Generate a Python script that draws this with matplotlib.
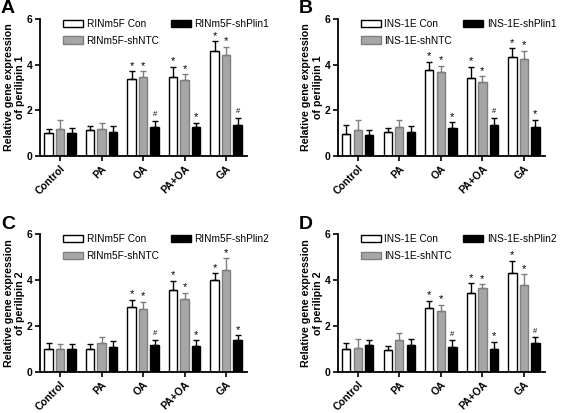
import numpy as np
import matplotlib.pyplot as plt

plt.rcParams['font.family'] = ['Liberation Sans', 'DejaVu Sans']

groups = ['Control', 'PA', 'OA', 'PA+OA', 'GA']

# panel A: RINm5F, perilipin 1
a_con = [0.99, 1.14, 3.36, 3.47, 4.61]
a_con_err = [0.18, 0.17, 0.36, 0.44, 0.41]
a_ntc = [1.17, 1.17, 3.47, 3.31, 4.42]
a_ntc_err = [0.43, 0.29, 0.25, 0.28, 0.37]
a_sh = [1.02, 1.05, 1.28, 1.28, 1.36]
a_sh_err = [0.19, 0.26, 0.27, 0.18, 0.32]
a_sig = ['#', '*', '#']

# panel B: INS-1E, perilipin 1
b_con = [0.98, 1.05, 3.75, 3.44, 4.35]
b_con_err = [0.37, 0.19, 0.38, 0.47, 0.36]
b_ntc = [1.16, 1.27, 3.70, 3.26, 4.26]
b_ntc_err = [0.44, 0.33, 0.25, 0.24, 0.35]
b_sh = [0.94, 1.05, 1.24, 1.35, 1.27]
b_sh_err = [0.22, 0.25, 0.25, 0.33, 0.33]
b_sig = ['*', '#', '*']

# panel C: RINm5F, perilipin 2
c_con = [0.99, 1.02, 2.84, 3.55, 4.00]
c_con_err = [0.29, 0.22, 0.30, 0.42, 0.29]
c_ntc = [1.02, 1.27, 2.74, 3.16, 4.44]
c_ntc_err = [0.22, 0.26, 0.32, 0.30, 0.51]
c_sh = [0.99, 1.10, 1.16, 1.12, 1.38]
c_sh_err = [0.25, 0.24, 0.25, 0.26, 0.22]
c_sig = ['#', '*', '*']

# panel D: INS-1E, perilipin 2
d_con = [0.99, 0.95, 2.77, 3.45, 4.32]
d_con_err = [0.29, 0.17, 0.33, 0.41, 0.53]
d_ntc = [1.05, 1.38, 2.65, 3.67, 3.81]
d_ntc_err = [0.38, 0.32, 0.29, 0.16, 0.44]
d_sh = [1.16, 1.16, 1.09, 1.02, 1.27]
d_sh_err = [0.22, 0.27, 0.29, 0.29, 0.26]
d_sig = ['#', '*', '#']

panels = [
    ('A', 'RINm5F', 'Plin1', 'of perilipin 1', a_con, a_con_err, a_ntc, a_ntc_err, a_sh, a_sh_err, a_sig),
    ('B', 'INS-1E', 'Plin1', 'of perilipin 1', b_con, b_con_err, b_ntc, b_ntc_err, b_sh, b_sh_err, b_sig),
    ('C', 'RINm5F', 'Plin2', 'of perilipin 2', c_con, c_con_err, c_ntc, c_ntc_err, c_sh, c_sh_err, c_sig),
    ('D', 'INS-1E', 'Plin2', 'of perilipin 2', d_con, d_con_err, d_ntc, d_ntc_err, d_sh, d_sh_err, d_sig),
]

# axes boxes in figure fractions (left, bottom, width, height)
boxes = [
    [0.071, 0.622, 0.366, 0.332],
    [0.598, 0.622, 0.366, 0.332],
    [0.071, 0.099, 0.366, 0.334],
    [0.598, 0.099, 0.366, 0.334],
]

fig = plt.figure(figsize=(5.65, 4.13), dpi=100)

x = np.arange(len(groups))
w = 0.2
off = 0.277
grey = '#a6a6a6'

for box, p in zip(boxes, panels):
    letter, cell, plin, ylab2, con, con_e, ntc, ntc_e, sh, sh_e, sig = p
    ax = fig.add_axes(box)
    series = [
        (con, con_e, 'white', 'black', 'black', cell + ' Con'),
        (ntc, ntc_e, grey, '#7f7f7f', '#7f7f7f', cell + '-shNTC'),
        (sh, sh_e, 'black', 'black', 'black', cell + '-sh' + plin),
    ]
    for k, (vals, errs, fc, ec, errc, lab) in enumerate(series):
        pos = x + (k - 1) * off
        ax.bar(pos, vals, w, color=fc, edgecolor=ec, linewidth=1.0, label=lab)
        ax.errorbar(pos, vals, yerr=[np.zeros(len(vals)), errs], fmt='none',
                    ecolor=errc, elinewidth=1.0, capsize=2.2, capthick=1.0)
        for i in range(2, 5):
            m = '*' if k < 2 else sig[i - 2]
            dy = 0.02 if m == '*' else 0.1
            ax.text(pos[i], vals[i] + errs[i] + dy, m, ha='center', va='bottom',
                    fontsize=8 if m == '*' else 5.5, color='black')

    ax.set_xlim(-0.48, 4.5)
    ax.set_ylim(0, 6)
    ax.set_yticks([0, 2, 4, 6])
    ax.set_xticks(x)
    ax.set_xticklabels(groups, rotation=45, ha='right', rotation_mode='anchor',
                       fontsize=7.5, fontweight='bold')
    for t in ax.get_yticklabels():
        t.set_fontweight('bold')
        t.set_fontsize(7.5)
    ax.tick_params(direction='out', length=3.5, width=1.2, pad=2)
    for s in ['top', 'right']:
        ax.spines[s].set_visible(False)
    for s in ['left', 'bottom']:
        ax.spines[s].set_linewidth(1.3)
    ax.set_ylabel('Relative gene expression\n' + ylab2, fontsize=7.7,
                  fontweight='bold', labelpad=1, linespacing=1.2)
    ax.legend(ncol=2, loc='upper left', bbox_to_anchor=(0.09, 1.03), frameon=False,
              fontsize=7.3, handlelength=2.0, handleheight=0.7, handletextpad=0.35,
              labelspacing=0.65, columnspacing=1.1, borderaxespad=0)
    ax.text(-0.19, 1.135, letter, transform=ax.transAxes, fontsize=14,
            fontweight='bold', ha='left', va='top')

fig.savefig('out.png', dpi=100)
